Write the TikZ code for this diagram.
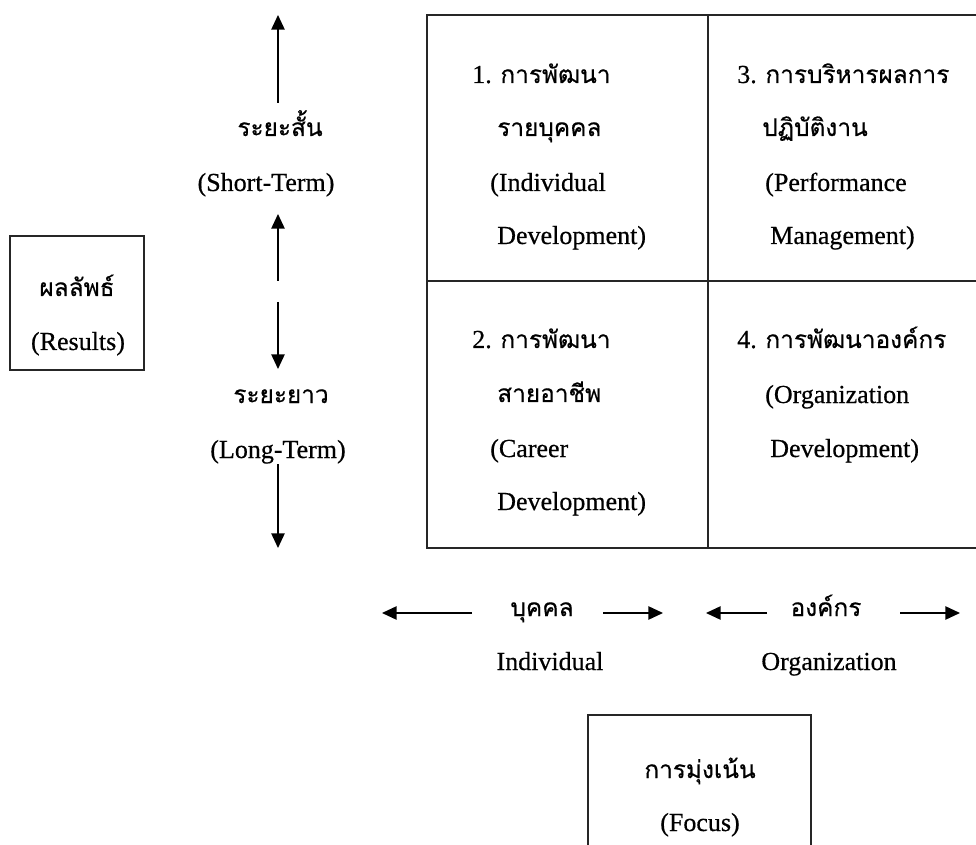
\documentclass[tikz,border=0pt]{standalone}
\usepackage{fontspec}
\setmainfont[FakeBold=0.5]{Liberation Serif}
\newfontfamily\thai[Script=Thai,FakeBold=0.5]{Loma}
\usetikzlibrary{arrows.meta}
\newcommand\thx[1]{{\thai\fontsize{18.3}{23}\selectfont #1}}
\begin{document}
\begin{tikzpicture}[x=0.75pt,y=-0.75pt,
  lat/.style={font=\fontsize{19.5}{23}\selectfont, inner sep=0pt, text height=16pt, text depth=4pt},
  arr/.style={line width=1.2pt,-{Triangle[length=11pt,width=10pt]}},
  frame/.style={line width=1.1pt, draw=black!85}]
\useasboundingbox (0,0) rectangle (976,845);
\clip (0,0) rectangle (976,845);

% grid
\draw[frame] (990,15) -- (427,15) -- (427,548) -- (990,548);
\draw[frame] (708,15) -- (708,548);
\draw[frame] (427,281) -- (990,281);

% cell 1
\node[lat, anchor=west] (c1a) at (472,75) {1. \thx{การพัฒนา}};
\node[lat, anchor=west] (c1b) at (497,128) {\thx{รายบุคคล}};
\node[lat, anchor=west] (c1c) at (490,183) {(Individual};
\node[lat, anchor=west] (c1d) at (497,236) {Development)};
% cell 3
\node[lat, anchor=west] (c3a) at (737,75) {3. \thx{การบริหารผลการ}};
\node[lat, anchor=west] (c3b) at (762,128) {\thx{ปฏิบัติงาน}};
\node[lat, anchor=west] (c3c) at (765,183) {(Performance};
\node[lat, anchor=west] (c3d) at (770,236) {Management)};
% cell 2
\node[lat, anchor=west] (c2a) at (472,340) {2. \thx{การพัฒนา}};
\node[lat, anchor=west] (c2b) at (497,394) {\thx{สายอาชีพ}};
\node[lat, anchor=west] (c2c) at (490,449) {(Career};
\node[lat, anchor=west] (c2d) at (497,502) {Development)};
% cell 4
\node[lat, anchor=west] (c4a) at (737,340) {4. \thx{การพัฒนาองค์กร}};
\node[lat, anchor=west] (c4b) at (765,395) {(Organization};
\node[lat, anchor=west] (c4c) at (770,449) {Development)};

% results box
\node[frame, draw, minimum width=100.5pt, minimum height=100.5pt] (res) at (77,303) {};
\node[lat] (resa) at (77,288) {\thx{ผลลัพธ์}};
\node[lat] (resb) at (78,342) {(Results)};

% focus box
\node[frame, draw, minimum width=167.25pt, minimum height=127.5pt] (foc) at (699.5,800) {};
\node[lat] (foca) at (700,770) {\thx{การมุ่งเน้น}};
\node[lat] (focb) at (700,823) {(Focus)};

% vertical labels
\node[lat] (st1) at (280,128) {\thx{ระยะสั้น}};
\node[lat] (st2) at (266,183) {(Short-Term)};
\node[lat] (lt1) at (281,395) {\thx{ระยะยาว}};
\node[lat] (lt2) at (278,450) {(Long-Term)};

% horizontal labels
\node[lat] (ind1) at (542,608) {\thx{บุคคล}};
\node[lat] (ind2) at (550,662) {Individual};
\node[lat] (org1) at (826,608) {\thx{องค์กร}};
\node[lat] (org2) at (829,662) {Organization};

% vertical arrows
\coordinate (u1t) at (278,103); \coordinate (u1h) at (278,15);
\coordinate (u2t) at (278,281); \coordinate (u2h) at (278,214);
\coordinate (d1t) at (278,302); \coordinate (d1h) at (278,369);
\coordinate (d2t) at (278,464); \coordinate (d2h) at (278,548);
\draw[arr] (u1t) -- (u1h);
\draw[arr] (u2t) -- (u2h);
\draw[arr] (d1t) -- (d1h);
\draw[arr] (d2t) -- (d2h);

% horizontal arrows
\coordinate (l1t) at (472,613); \coordinate (l1h) at (382,613);
\coordinate (r1t) at (603,613); \coordinate (r1h) at (663,613);
\coordinate (l2t) at (767,613); \coordinate (l2h) at (706,613);
\coordinate (r2t) at (900,613); \coordinate (r2h) at (960,613);
\draw[arr] (l1t) -- (l1h);
\draw[arr] (r1t) -- (r1h);
\draw[arr] (l2t) -- (l2h);
\draw[arr] (r2t) -- (r2h);
\end{tikzpicture}
\end{document}
